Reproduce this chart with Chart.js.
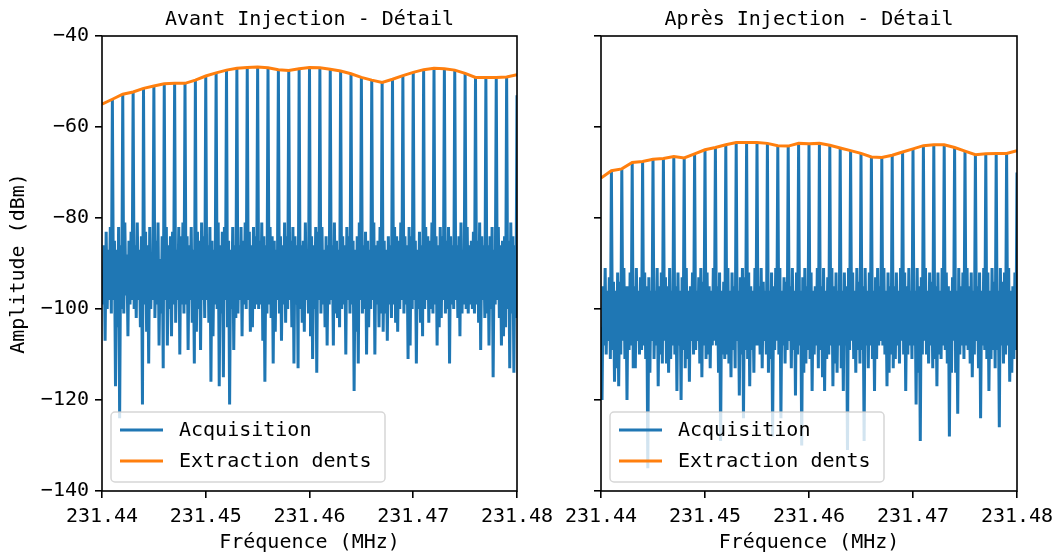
<!DOCTYPE html>
<html lang="fr">
<head>
<meta charset="UTF-8">
<title>Injection - Détail</title>
<script src="https://cdn.jsdelivr.net/npm/chart.js@4"></script>
<style>
  body { margin: 0; background: #fff; }
  canvas { position: absolute; top: 0; }
</style>
</head>
<body>
<canvas id="avant" width="560" height="558" style="left:0px"></canvas>
<canvas id="apres" width="527" height="558" style="left:530px"></canvas>
<script>
// bornes de fréquence (MHz) et pas du peigne / de la mesure
const debut = 231.44, fin = 231.48;
const pasDents = 0.001, pasMesure = 0.0001;
const xTicks = [231.44, 231.45, 231.46, 231.47, 231.48];
const yTicks = [-140, -120, -100, -80, -60, -40];

// sommets des dents (dBm), un par 0.001 MHz
const dentsAvant = [-55, -53.9, -52.8, -52.3, -51.5, -51.0, -50.5, -50.4, -50.4, -49.7, -48.8, -48.1, -47.5, -47.1, -46.9, -46.8, -47.0, -47.4, -47.6, -47.2, -46.9, -47.0, -47.3, -47.7, -48.3, -49.1, -49.7, -50.2, -49.5, -48.7, -48.0, -47.4, -47.1, -47.2, -47.5, -48.2, -49.1, -49.1, -49.1, -49.0, -48.5];
const dentsApres = [-71.2, -69.6, -69.2, -67.8, -67.6, -67.1, -66.9, -66.5, -66.8, -65.9, -65.0, -64.5, -63.9, -63.4, -63.4, -63.4, -63.6, -64.1, -64.2, -63.6, -63.7, -63.6, -64.0, -64.6, -65.2, -65.8, -66.6, -66.7, -66.2, -65.5, -64.8, -64.1, -63.9, -63.9, -64.5, -65.3, -66.1, -65.9, -65.8, -65.8, -65.2];

// valeurs de l'acquisition aux deux bords
const bordsAvant = [-96, -53];
const bordsApres = [-104, -70];

// plancher de bruit : 9 mesures entre deux dents
const bruitAvant = [
  -99,-86,-107,-83,-100,-87,-98,-82,-101,
  -98,-85,-117,-87,-104,-82,-124,-86,-100,
  -101,-81,-97,-88,-106,-85,-99,-83,-98,
  -100,-86,-102,-81,-98,-87,-104,-84,-121,
  -99,-83,-105,-86,-112,-82,-100,-88,-98,
  -102,-85,-99,-81,-108,-89,-101,-84,-113,
  -98,-82,-108,-86,-100,-84,-106,-83,-99,
  -103,-87,-98,-82,-110,-84,-99,-81,-101,
  -99,-84,-109,-86,-98,-82,-103,-87,-112,
  -105,-83,-100,-85,-109,-81,-98,-84,-102,
  -98,-86,-103,-82,-116,-85,-106,-87,-99,
  -100,-81,-117,-86,-101,-83,-115,-82,-98,
  -104,-85,-121,-87,-100,-82,-109,-86,-102,
  -101,-86,-98,-82,-106,-85,-99,-81,-100,
  -98,-83,-105,-86,-104,-82,-100,-84,-99,
  -100,-85,-99,-81,-107,-84,-116,-86,-101,
  -99,-82,-102,-84,-112,-85,-105,-87,-98,
  -101,-84,-107,-86,-99,-81,-103,-84,-100,
  -98,-85,-104,-82,-112,-84,-99,-86,-113,
  -100,-86,-103,-85,-105,-81,-98,-87,-101,
  -106,-84,-111,-86,-100,-82,-114,-83,-98,
  -101,-82,-99,-87,-104,-84,-108,-86,-99,
  -98,-86,-108,-81,-101,-85,-102,-87,-104,
  -100,-84,-99,-86,-110,-82,-98,-84,-101,
  -99,-85,-118,-87,-105,-84,-112,-81,-98,
  -101,-86,-100,-83,-110,-85,-104,-87,-100,
  -98,-81,-110,-86,-99,-85,-104,-82,-101,
  -105,-85,-101,-87,-107,-84,-99,-86,-102,
  -99,-82,-103,-84,-105,-85,-100,-81,-98,
  -101,-84,-99,-86,-111,-82,-108,-84,-100,
  -98,-85,-112,-87,-100,-83,-103,-86,-106,
  -100,-82,-98,-84,-103,-85,-100,-81,-101,
  -99,-84,-108,-86,-104,-82,-102,-84,-98,
  -101,-85,-100,-82,-112,-84,-99,-86,-100,
  -98,-86,-102,-84,-106,-81,-101,-87,-99,
  -100,-82,-101,-86,-99,-85,-100,-83,-101,
  -99,-85,-103,-81,-109,-84,-98,-86,-102,
  -101,-86,-108,-84,-100,-82,-115,-87,-99,
  -98,-82,-102,-86,-108,-85,-106,-84,-104,
  -100,-85,-113,-81,-101,-84,-114,-86,-102
];
const bruitApres = [
  -120,-95,-108,-91,-110,-96,-107,-93,-111,
  -109,-94,-116,-96,-113,-92,-117,-94,-110,
  -107,-91,-111,-95,-120,-95,-109,-92,-108,
  -113,-95,-113,-91,-107,-96,-110,-93,-109,
  -108,-92,-111,-95,-135,-93,-114,-96,-107,
  -111,-96,-108,-91,-117,-95,-110,-92,-112,
  -107,-93,-112,-95,-114,-91,-111,-96,-108,
  -110,-95,-118,-92,-108,-96,-120,-93,-109,
  -113,-91,-111,-96,-116,-95,-107,-92,-110,
  -109,-96,-107,-93,-112,-91,-115,-94,-108,
  -111,-92,-110,-95,-113,-96,-108,-91,-107,
  -108,-95,-114,-92,-129,-96,-110,-94,-111,
  -110,-91,-112,-96,-115,-92,-109,-95,-113,
  -107,-96,-119,-93,-110,-91,-124,-93,-109,
  -111,-92,-117,-95,-109,-96,-114,-91,-108,
  -108,-95,-110,-91,-113,-94,-107,-96,-110,
  -114,-96,-111,-92,-128,-95,-109,-91,-107,
  -110,-91,-124,-96,-108,-93,-112,-94,-109,
  -107,-95,-113,-91,-109,-96,-119,-92,-110,
  -108,-96,-130,-93,-114,-91,-112,-95,-109,
  -111,-92,-118,-96,-110,-95,-108,-91,-113,
  -109,-95,-115,-91,-118,-96,-111,-93,-110,
  -108,-91,-117,-95,-112,-92,-114,-96,-108,
  -113,-96,-118,-92,-108,-95,-131,-91,-109,
  -107,-92,-111,-96,-114,-91,-109,-94,-112,
  -109,-95,-129,-91,-108,-96,-113,-92,-108,
  -111,-96,-118,-93,-111,-91,-108,-95,-107,
  -108,-91,-110,-96,-117,-92,-114,-95,-110,
  -113,-95,-111,-92,-108,-96,-112,-91,-107,
  -110,-92,-118,-95,-110,-91,-108,-96,-111,
  -108,-96,-121,-91,-114,-95,-129,-93,-110,
  -107,-91,-110,-96,-112,-92,-108,-94,-113,
  -111,-95,-117,-92,-110,-96,-111,-91,-108,
  -109,-92,-112,-95,-128,-96,-114,-93,-107,
  -114,-96,-123,-91,-110,-95,-108,-92,-111,
  -108,-91,-109,-95,-112,-92,-115,-96,-110,
  -107,-95,-113,-92,-124,-96,-108,-91,-109,
  -111,-92,-118,-96,-111,-91,-109,-94,-113,
  -109,-96,-126,-91,-108,-94,-112,-92,-110,
  -108,-91,-116,-96,-114,-95,-111,-92,-109
];

const bleu = '#1f77b4', orange = '#ff7f0e';
const police = { family: "'DejaVu Sans Mono'", size: 20 };

function acquisition(dents, bruit, bords) {
  const pts = [{ x: debut, y: bords[0] }];
  for (let k = 0; k < dents.length - 1; k++) {
    const x0 = debut + k * pasDents;
    if (k > 0) pts.push({ x: x0, y: dents[k] });
    for (let j = 1; j <= 9; j++) pts.push({ x: x0 + j * pasMesure, y: bruit[k * 9 + j - 1] });
  }
  pts.push({ x: fin, y: bords[1] });
  return pts;
}

function enveloppe(dents) {
  return dents.map((v, k) => ({ x: debut + k * pasDents, y: v }));
}

// cadre, titre et légende façon matplotlib
const cadre = {
  id: 'cadre',
  afterDatasetsDraw(chart, args, opts) {
    const { ctx, chartArea: a } = chart;
    ctx.save();
    // légende
    const bx = a.left + 9, by = a.bottom - 79, bw = 274, bh = 70, r = 4;
    ctx.beginPath();
    ctx.moveTo(bx + r, by);
    ctx.lineTo(bx + bw - r, by);
    ctx.arcTo(bx + bw, by, bx + bw, by + r, r);
    ctx.lineTo(bx + bw, by + bh - r);
    ctx.arcTo(bx + bw, by + bh, bx + bw - r, by + bh, r);
    ctx.lineTo(bx + r, by + bh);
    ctx.arcTo(bx, by + bh, bx, by + bh - r, r);
    ctx.lineTo(bx, by + r);
    ctx.arcTo(bx, by, bx + r, by, r);
    ctx.closePath();
    ctx.fillStyle = 'rgba(255,255,255,0.8)';
    ctx.fill();
    ctx.strokeStyle = 'rgba(204,204,204,0.8)';
    ctx.lineWidth = 1.5;
    ctx.stroke();
    const items = [['Acquisition', bleu, 18], ['Extraction dents', orange, 49]];
    ctx.font = "20px 'DejaVu Sans Mono'";
    ctx.textAlign = 'left';
    ctx.textBaseline = 'middle';
    items.forEach(([txt, col, dy]) => {
      ctx.strokeStyle = col;
      ctx.lineWidth = 3;
      ctx.beginPath();
      ctx.moveTo(bx + 9, by + dy);
      ctx.lineTo(bx + 52, by + dy);
      ctx.stroke();
      ctx.fillStyle = '#000';
      ctx.fillText(txt, bx + 68, by + dy + 1);
    });
    // cadre des axes
    ctx.strokeStyle = '#000';
    ctx.lineWidth = 1.6;
    ctx.strokeRect(a.left, a.top, a.right - a.left, a.bottom - a.top);
    // titre
    ctx.fillStyle = '#000';
    ctx.textAlign = 'center';
    ctx.textBaseline = 'alphabetic';
    ctx.fillText(opts.titre, (a.left + a.right) / 2, 24.5);
    ctx.restore();
  }
};

function creer(id, titre, dents, bruit, bords, largeurY, margeDroite, labelY) {
  new Chart(document.getElementById(id), {
    type: 'line',
    data: {
      datasets: [
        { label: 'Extraction dents', data: enveloppe(dents), borderColor: orange, borderWidth: 3, pointRadius: 0, tension: 0 },
        { label: 'Acquisition', data: acquisition(dents, bruit, bords), borderColor: bleu, borderWidth: 3, pointRadius: 0, tension: 0 }
      ]
    },
    options: {
      responsive: false,
      animation: false,
      events: [],
      layout: { padding: { left: 0, right: margeDroite, top: 36, bottom: 0 } },
      plugins: { legend: { display: false }, tooltip: { enabled: false }, cadre: { titre: titre } },
      scales: {
        x: {
          type: 'linear', min: debut, max: fin,
          afterBuildTicks: s => { s.ticks = xTicks.map(v => ({ value: v })); },
          afterFit: s => { s.height = 67; s.paddingLeft = 0; s.paddingRight = 0; },
          grid: { drawOnChartArea: false, drawTicks: true, tickLength: 7, color: '#000', lineWidth: 1.6 },
          border: { display: false },
          ticks: { color: '#000', font: police, padding: 7, maxRotation: 0, autoSkip: false, callback: v => v.toFixed(2) },
          title: { display: true, text: 'Fréquence (MHz)', color: '#000', font: police, padding: { top: 0, bottom: 3 } }
        },
        y: {
          type: 'linear', min: -140, max: -40,
          afterBuildTicks: s => { s.ticks = yTicks.map(v => ({ value: v })); },
          afterFit: s => { s.width = largeurY; s.paddingTop = 0; s.paddingBottom = 0; },
          grid: { drawOnChartArea: false, drawTicks: true, tickLength: 7, color: '#000', lineWidth: 1.6 },
          border: { display: false },
          ticks: { color: '#000', font: police, padding: 6, callback: v => labelY ? String(v).replace('-', '\u2212') : '' },
          title: { display: !!labelY, text: labelY, color: '#000', font: police, padding: { top: 7, bottom: 0 } }
        }
      }
    },
    plugins: [cadre]
  });
}

creer('avant', 'Avant Injection - Détail', dentsAvant, bruitAvant, bordsAvant, 102, 43, 'Amplitude (dBm)');
creer('apres', 'Après Injection - Détail', dentsApres, bruitApres, bordsApres, 71, 40, '');
</script>
</body>
</html>
